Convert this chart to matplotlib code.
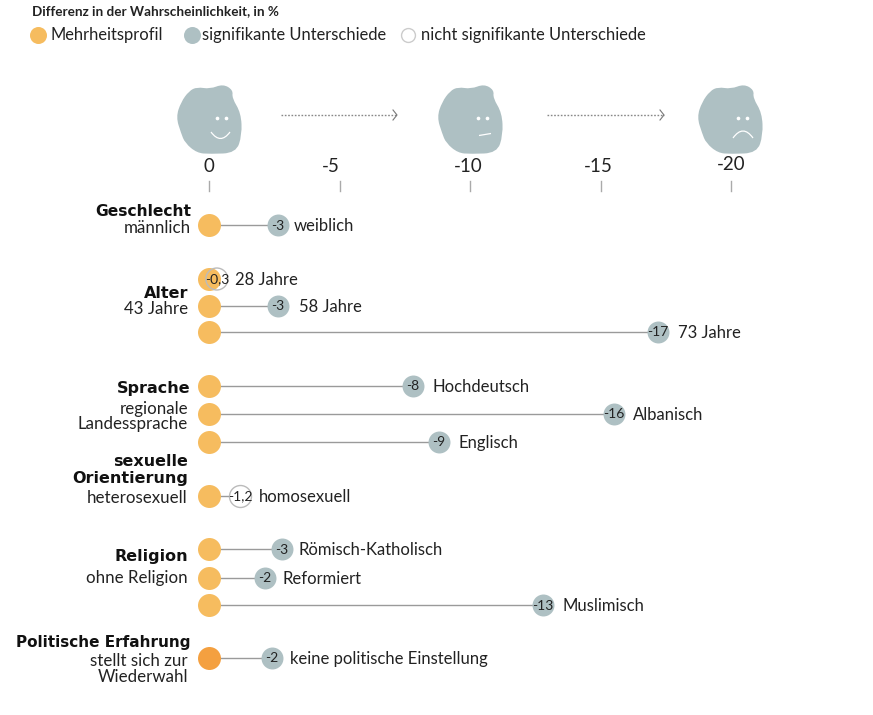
"""Differenz in der Wahrscheinlichkeit: dot chart with blob faces."""
import matplotlib
matplotlib.use('Agg')
import matplotlib.pyplot as plt
from matplotlib.patches import PathPatch
from matplotlib.path import Path
import numpy as np

row_values = [-2.65, -0.3, -2.65, -17.2, -7.8, -15.5, -8.8, -1.2, -2.8, -2.15, -12.8, -2.4]
value_labels = ['-3', '-0,3', '-3', '-17', '-8', '-16', '-9', '-1,2', '-3', '-2', '-13', '-2']
outcome_labels = ['weiblich', '28 Jahre', '58 Jahre', '73 Jahre', 'Hochdeutsch', 'Albanisch',
                  'Englisch', 'homosexuell', 'Römisch-Katholisch', 'Reformiert', 'Muslimisch',
                  'keine politische Einstellung']
significant = [True, False, True, True, True, True, True, False, True, True, True, True]
axis_ticks = [0, -5, -10, -15, -20]

# layout in pixels of the 873x715 image
row_y = [225, 279, 306, 332, 386, 414, 442, 496, 549, 578, 605, 658]
label_x = [294, 235, 299, 678, 432, 633, 458, 259, 298, 283, 562, 290]
tick_label_x = [209, 331, 468, 598, 731]
tick_label_y = [167, 167, 167, 167, 165]

ORANGE = '#F6BC5F'
ORANGE_DARK = '#F4A040'
GREY = '#AEC0C3'
LINE = '#9a9a9a'
FONT = 'Lato'
HEAVY = 'DejaVu Sans'

plt.rcParams['font.family'] = FONT

W, H = 873, 715
PX_PER_UNIT = 26.1
fig = plt.figure(figsize=(W / 100, H / 100), dpi=100)

# pixel axes for text and decoration
bg = fig.add_axes([0, 0, 1, 1])
bg.set_xlim(0, W)
bg.set_ylim(H, 0)
bg.axis('off')

# value axes on top, 0 sits at x=209px
ax = fig.add_axes([0, 0, 1, 1], facecolor='none')
ax.set_xlim(209 / PX_PER_UNIT, -(W - 209) / PX_PER_UNIT)
ax.set_ylim(H, 0)
ax.axis('off')

# title and legend
bg.text(32, 11, 'Differenz in der Wahrscheinlichkeit, in %', fontsize=9.7, fontweight='bold',
        va='center', color='#222222')
bg.scatter([38], [35], s=150, color=ORANGE, lw=0)
bg.scatter([192], [35], s=150, color=GREY, lw=0)
bg.scatter([408], [35], s=100, color='white', edgecolor='#cccccc', lw=1)
for x, t in zip([50, 202, 421], ['Mehrheitsprofil', 'signifikante Unterschiede',
                                 'nicht signifikante Unterschiede']):
    bg.text(x, 35, t, fontsize=11.9, va='center', color='#222222')

# blob faces
blob = np.array([(197, 87), (210, 89), (223, 84), (233, 90), (232, 98), (241, 113), (242, 135),
                 (236, 153), (210, 154), (197, 153), (185, 143), (181, 133), (176, 117),
                 (181, 102), (189, 91)], dtype=float)


def smooth_blob(points):
    mids = (points + np.roll(points, -1, axis=0)) / 2
    verts = [mids[-1]]
    codes = [Path.MOVETO]
    for p, m in zip(points, mids):
        verts += [p, m]
        codes += [Path.CURVE3, Path.CURVE3]
    return Path(verts, codes)


mouths = [((211, 132), (220.5, 145), (230, 132)),
          ((218, 135.5), (224, 134.5), (230, 133.5)),
          ((212, 138), (222, 124), (232, 138))]
for dx, mouth in zip([0, 261, 521], mouths):
    bg.add_patch(PathPatch(smooth_blob(blob + [dx, 0]), fc=GREY, ec='none'))
    bg.scatter([217 + dx, 226 + dx], [118, 118], s=7, color='white', lw=0, zorder=3)
    bg.add_patch(PathPatch(Path([(x + dx, y) for x, y in mouth],
                                [Path.MOVETO, Path.CURVE3, Path.CURVE3]),
                           fc='none', ec='white', lw=0.9, zorder=3))

# dotted arrows between faces
for x0, x1 in [(281, 397), (547, 664)]:
    bg.plot([x0, x1], [115, 115], color='#888888', lw=1, ls=(0, (1.2, 1.2)))
    bg.plot([x1 - 4, x1, x1 - 4], [110, 115, 120], color='#777777', lw=0.8)

# axis ticks and labels
for v, x, y in zip(axis_ticks, tick_label_x, tick_label_y):
    ax.plot([v, v], [181, 191], color='#aaaaaa', lw=1)
    bg.text(x, y, str(v), fontsize=13.5, ha='center', va='center', color='#222222')

# rows
for i, (v, y) in enumerate(zip(row_values, row_y)):
    ax.plot([0, v], [y, y], color=LINE, lw=1, zorder=1)
    base = ORANGE_DARK if i == len(row_y) - 1 else ORANGE
    ax.scatter([0], [y], s=274, color=base, lw=0, zorder=2)
    if significant[i]:
        ax.scatter([v], [y], s=250, color=GREY, lw=0, zorder=3)
    else:
        face = 'none' if v > -1 else 'white'
        ax.scatter([v], [y], s=250, facecolor=face, edgecolor='#bbbbbb', lw=1, zorder=3)
    ax.text(v, y + 0.5, value_labels[i], fontsize=10, ha='center', va='center',
            color='#222222', zorder=4)
    bg.text(label_x[i], y + 1, outcome_labels[i], fontsize=12, va='center', color='#222222')

# group headings and reference profile
headings = [('Geschlecht', 191, 211, 11.2), ('Alter', 188, 293, 11.5), ('Sprache', 190, 389, 11.5),
            ('sexuelle', 188, 462, 11.5), ('Orientierung', 188, 478, 11.5),
            ('Religion', 188, 557, 11.5), ('Politische Erfahrung', 191, 643, 11)]
profiles = [('männlich', 191, 228), ('43 Jahre', 188, 309), ('regionale', 188, 409),
            ('Landessprache', 188, 424), ('heterosexuell', 187, 498), ('ohne Religion', 188, 578),
            ('stellt sich zur', 188, 661), ('Wiederwahl', 188, 677)]
for t, x, y, size in headings:
    bg.text(x, y, t, fontsize=size, fontweight='bold', family=HEAVY, ha='right', va='center',
            color='#111111')
for t, x, y in profiles:
    bg.text(x, y, t, fontsize=12.2, ha='right', va='center', color='#222222')

fig.savefig('out.png', dpi=100)
